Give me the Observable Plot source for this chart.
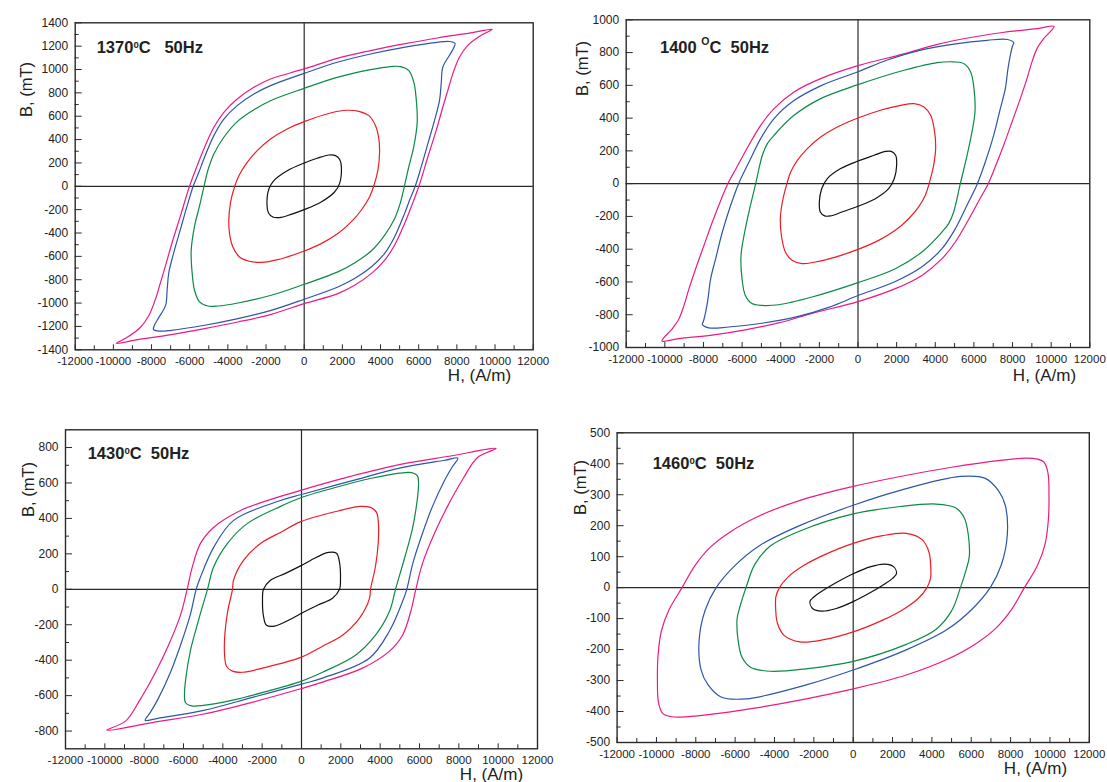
<!DOCTYPE html>
<html><head><meta charset="utf-8">
<script src="https://cdn.jsdelivr.net/npm/d3@7"></script>
<script src="https://cdn.jsdelivr.net/npm/@observablehq/plot@0.6"></script>
<style>
body{margin:0;background:#fff;}
#root{position:relative;width:1107px;height:782px;overflow:hidden;font-family:"Liberation Sans",Arial,sans-serif;}
.panel{position:absolute;}
.title{position:absolute;font-weight:bold;font-size:16.5px;line-height:1;white-space:pre;color:#231f20;}
.title .sup{position:relative;font-size:9.6px;}
</style></head><body><div id="root"></div><script>
// ---- tick values ----
const xLabels = [-12000,-10000,-8000,-6000,-4000,-2000,0,2000,4000,6000,8000,10000,12000];
const xMinor = [-11000,-9000,-7000,-5000,-3000,-1000,1000,3000,5000,7000,9000,11000];
const p1YLabels = [-1400,-1200,-1000,-800,-600,-400,-200,0,200,400,600,800,1000,1200,1400];
const p1YMinor = [-1300,-1100,-900,-700,-500,-300,-100,100,300,500,700,900,1100,1300];
const p2YLabels = [-1000,-800,-600,-400,-200,0,200,400,600,800,1000];
const p2YMinor = [-900,-700,-500,-300,-100,100,300,500,700,900];
const p3YLabels = [-800,-600,-400,-200,0,200,400,600,800];
const p3YMinor = [-700,-500,-300,-100,100,300,500,700];
const p4YLabels = [-500,-400,-300,-200,-100,0,100,200,300,400,500];
const p4YMinor = [-450,-350,-250,-150,-50,50,150,250,350,450];

// ---- loop data: descending (upper) half of each loop, [H (A/m), B (mT)],
// from the max-H point to its mirror point; the other half is the mirror image ----
// 1370 C
const p1Magenta = [[9850,1345],[8716,1313],[6969,1270],[5223,1219],[3476,1162],[1729,1096],[0,1005],[-1764,919],[-2638,848],[-3511,748],[-4210,634],[-4734,505],[-5258,320],[-5607,177],[-6009,0],[-6480,-251],[-6917,-479],[-7266,-679],[-7528,-822],[-7790,-965],[-8140,-1107],[-8576,-1207],[-9275,-1293],[-9850,-1345]];
const p1Blue = [[7900,1225],[7600,1240],[6969,1233],[5223,1190],[3476,1133],[1729,1062],[0,967],[-1764,862],[-2638,790],[-3511,691],[-4210,576],[-4734,434],[-5258,234],[-5520,120],[-5817,0],[-6131,-166],[-6480,-365],[-6830,-565],[-7092,-736],[-7179,-879],[-7266,-1022],[-7615,-1122],[-7850,-1190],[-7900,-1225]];
const p1Green = [[5921,548],[5869,748],[5747,890],[5485,990],[5048,1025],[4524,1025],[3476,999],[1729,933],[0,839],[-1764,733],[-2638,656],[-3511,554],[-4210,420],[-4734,277],[-5050,135],[-5250,0],[-5480,-166],[-5740,-337],[-5921,-548]];
const p1Red = [[3950,290],[3913,405],[3738,519],[3389,605],[2865,642],[2253,651],[1380,628],[0,554],[-891,491],[-1764,405],[-2463,305],[-2987,205],[-3424,91],[-3640,0],[-3860,-137],[-3950,-290]];
const p1Black = [[1950,160],[1869,228],[1642,263],[1293,268],[681,240],[0,200],[-891,134],[-1590,49],[-1852,-23],[-1950,-160]];
// 1400 C
const p2Magenta = [[10150,960],[9283,946],[7557,924],[5832,892],[4106,850],[2381,792],[0,720],[-1932,641],[-3313,560],[-4348,458],[-5038,356],[-5740,216],[-6290,97],[-6740,0],[-7080,-95],[-7540,-234],[-7971,-376],[-8403,-519],[-8748,-641],[-9007,-743],[-9266,-824],[-9611,-885],[-10150,-960]];
const p2Blue = [[8060,860],[7730,880],[6694,875],[4969,852],[3244,815],[1518,755],[0,683],[-1932,597],[-3313,507],[-4348,397],[-5038,275],[-5642,132],[-6180,0],[-6591,-132],[-7023,-295],[-7368,-458],[-7627,-580],[-7764,-702],[-7885,-783],[-8000,-840],[-8060,-860]];
const p2Green = [[6056,437],[6004,580],[5832,682],[5487,732],[4969,743],[4106,739],[2381,692],[0,604],[-1932,519],[-3313,417],[-4348,295],[-4693,244],[-4952,173],[-5297,0],[-5608,-153],[-5866,-295],[-6056,-437]];
const p2Red = [[4020,214],[3968,315],[3761,417],[3416,468],[2899,488],[2208,478],[1173,448],[0,401],[-1070,346],[-1932,285],[-2623,214],[-3140,142],[-3485,71],[-3680,0],[-3916,-112],[-4020,-214]];
const p2Black = [[2001,112],[1950,173],[1725,197],[1432,197],[828,173],[0,138],[-897,92],[-1587,31],[-1881,-31],[-2001,-112]];
// 1430 C
const p3Magenta = [[9900,795],[7577,752],[5034,705],[2492,637],[0,560],[-1068,524],[-3102,445],[-4475,349],[-5136,259],[-5558,124],[-5813,0],[-6153,-146],[-6763,-316],[-7424,-468],[-8222,-625],[-8950,-744],[-9900,-795]];
const p3Blue = [[7950,740],[7300,728],[5034,685],[2492,610],[0,535],[-1068,501],[-3450,389],[-4460,238],[-5136,69],[-5355,0],[-5660,-146],[-6153,-316],[-6661,-468],[-7272,-614],[-7678,-693],[-7950,-740]];
const p3Green = [[5950,590],[5900,640],[5600,658],[5000,655],[3500,625],[2000,583],[0,518],[-1068,468],[-2746,372],[-3763,259],[-4475,124],[-4780,0],[-5238,-175],[-5645,-344],[-5880,-500],[-5950,-590]];
const p3Red = [[3916,361],[3814,434],[3509,462],[3000,468],[1983,445],[0,383],[-1068,321],[-2085,259],[-2949,163],[-3458,51],[-3509,0],[-3763,-130],[-3900,-260],[-3916,-361]];
const p3Black = [[1932,152],[1780,203],[1373,208],[458,163],[0,135],[-814,90],[-1576,51],[-1932,0],[-1983,-62],[-1932,-152]];
// 1460 C
const p4Magenta = [[9950,300],[9900,370],[9700,405],[9300,416],[8750,418],[7475,411],[4932,388],[2390,359],[0,327],[-2695,282],[-4729,233],[-6254,180],[-7271,130],[-8034,72],[-8700,0],[-9350,-70],[-9750,-140],[-9920,-220],[-9950,-300]];
const p4Blue = [[7831,169],[7729,266],[7373,314],[6712,353],[5441,359],[2390,314],[0,266],[-2695,201],[-4729,137],[-6000,72],[-6966,0],[-7525,-73],[-7831,-169]];
const p4Green = [[5900,100],[5850,170],[5650,225],[5200,258],[4200,270],[2400,262],[0,238],[-2700,183],[-4200,135],[-5000,75],[-5450,0],[-5750,-60],[-5900,-100]];
const p4Red = [[3950,50],[3850,115],[3500,155],[2700,175],[1500,168],[0,143],[-1500,105],[-2500,72],[-3300,35],[-3750,0],[-3930,-30],[-3950,-50]];
const p4Black = [[2200,45],[2050,68],[1600,76],[900,68],[0,45],[-900,15],[-1600,-12],[-2000,-30],[-2200,-45]];

const colors = {magenta:"#ec1a84", blue:"#2d56a8", green:"#0b8a45", red:"#ed1c24", black:"#111"};

const panels = [
  {left:0, top:0, width:560, height:400, ml:74.7, mr:27.3, mt:22.3, mb:50.7, yDomain:[-1400,1400],
   yLabels:p1YLabels, yMinor:p1YMinor, bLabel:[20,89], hLabel:[479,380],
   title:{x:96.7, base:53.3, html:'1370<span class="sup" style="top:-5px">0</span>C   50Hz'},
   loops:[[p1Magenta,"magenta"],[p1Blue,"blue"],[p1Green,"green"],[p1Red,"red"],[p1Black,"black"]]},
  {left:560, top:0, width:547, height:400, ml:65.7, mr:17.7, mt:19.3, mb:53, yDomain:[-1000,1000],
   yLabels:p2YLabels, yMinor:p2YMinor, bLabel:[576,68], hLabel:[1044,380],
   title:{x:660, base:53, html:'1400 <span class="sup" style="top:-8px;font-size:10.5px">O</span>C  50Hz'},
   loops:[[p2Magenta,"magenta"],[p2Blue,"blue"],[p2Green,"green"],[p2Red,"red"],[p2Black,"black"]]},
  {left:0, top:400, width:560, height:382, ml:65, mr:23, mt:29.3, mb:33.7, yDomain:[-900,900],
   yLabels:p3YLabels, yMinor:p3YMinor, bLabel:[22,489], hLabel:[491,779],
   title:{x:87.7, base:459.3, html:'1430<span class="sup" style="top:-5px">0</span>C  50Hz'},
   loops:[[p3Magenta,"magenta"],[p3Blue,"blue"],[p3Green,"green"],[p3Red,"red"],[p3Black,"black"]]},
  {left:560, top:400, width:547, height:382, ml:56.6, mr:18.2, mt:32.3, mb:40, yDomain:[-500,500],
   yLabels:p4YLabels, yMinor:p4YMinor, bLabel:[574,487], hLabel:[1035,773],
   title:{x:652.7, base:469, html:'1460<span class="sup" style="top:-5px">0</span>C  50Hz'},
   loops:[[p4Magenta,"magenta"],[p4Blue,"blue"],[p4Green,"green"],[p4Red,"red"],[p4Black,"black"]]}
];

function fullLoop(upper) {
  return upper.concat(upper.slice(1, -1).map(([h, b]) => [-h, -b]));
}

const root = document.getElementById("root");
const axisColor = "#2a2a2a";
for (const p of panels) {
  const fw = p.width - p.ml - p.mr, fh = p.height - p.mt - p.mb;
  const marks = [
    Plot.ruleY([0], {stroke: axisColor, strokeWidth: 1.2}),
    Plot.ruleX([0], {stroke: axisColor, strokeWidth: 1.2})
  ];
  for (const [pts, c] of p.loops) {
    marks.push(Plot.line(fullLoop(pts), {x: d => d[0], y: d => d[1], stroke: colors[c], strokeWidth: 1.2, curve: "catmull-rom-closed"}));
  }
  marks.push(
    Plot.ruleY(p.yLabels, {insetRight: fw - 7, stroke: axisColor}),
    Plot.ruleY(p.yMinor, {insetRight: fw - 4, stroke: axisColor}),
    Plot.ruleX(xLabels, {insetTop: fh - 5, stroke: axisColor}),
    Plot.ruleX(xMinor, {insetTop: fh - 4, stroke: axisColor}),
    Plot.frame({stroke: axisColor, strokeWidth: 1.4}),
    Plot.axisY(p.yLabels, {tickSize: 0, tickPadding: 7, tickFormat: d => String(d), fontSize: 12, label: null, fill: "#222"}),
    Plot.axisX(xLabels, {tickSize: 0, tickPadding: 7, tickFormat: d => String(d), fontSize: 11.5, label: null, fill: "#222"}),
    Plot.text(["B, (mT)"], {frameAnchor: "top-left", dx: p.bLabel[0] - p.left - p.ml, dy: p.bLabel[1] - p.top - p.mt, rotate: -90, fontSize: 16.5, fill: "#222", textAnchor: "middle"}),
    Plot.text(["H, (A/m)"], {frameAnchor: "bottom-left", dx: p.hLabel[0] - p.left - p.ml, dy: p.hLabel[1] - p.top - (p.height - p.mb), fontSize: 17, fill: "#222", textAnchor: "middle"})
  );
  const chart = Plot.plot({
    width: p.width, height: p.height,
    marginLeft: p.ml, marginRight: p.mr, marginTop: p.mt, marginBottom: p.mb,
    x: {domain: [-12000, 12000]},
    y: {domain: p.yDomain},
    style: {fontFamily: '"Liberation Sans", Arial, sans-serif', background: "transparent", overflow: "visible", color: "#222"},
    marks
  });
  const holder = document.createElement("div");
  holder.className = "panel";
  holder.style.left = p.left + "px";
  holder.style.top = p.top + "px";
  holder.appendChild(chart);
  root.appendChild(holder);
  const t = document.createElement("div");
  t.className = "title";
  t.style.left = p.title.x + "px";
  t.style.top = (p.title.base - 14) + "px";
  t.innerHTML = p.title.html;
  root.appendChild(t);
}
</script></body></html>
